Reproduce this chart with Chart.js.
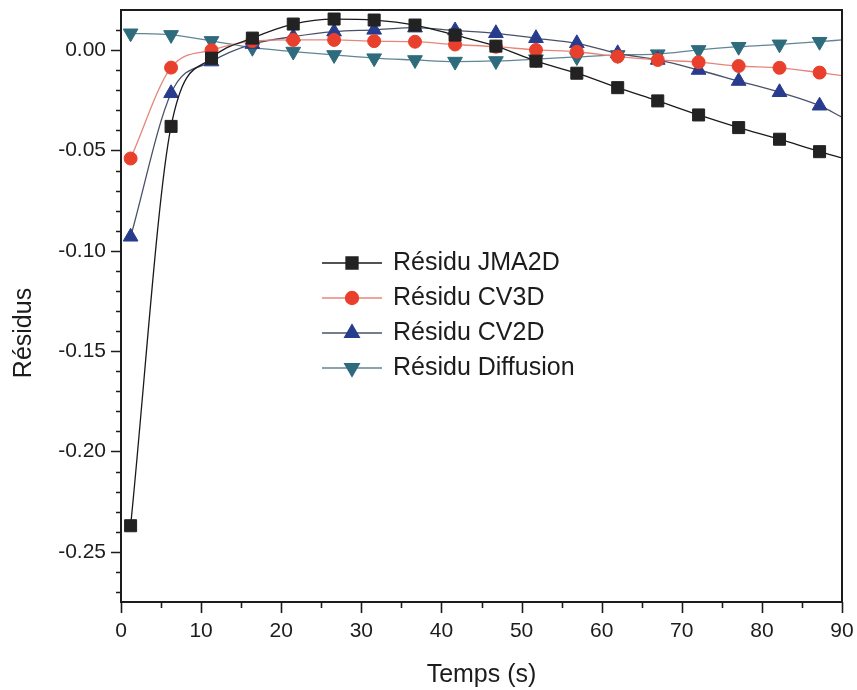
<!DOCTYPE html>
<html>
<head>
<meta charset="utf-8">
<script src="https://cdn.jsdelivr.net/npm/chart.js@4/dist/chart.umd.min.js"></script>
<style>
  html, body { margin: 0; padding: 0; background: #fff; }
  #residusChart { display: block; }
</style>
</head>
<body>
<canvas id="residusChart" width="857" height="690"></canvas>
<script>
/* DATA */
const temps = [1.2, 6.25, 11.3, 16.4, 21.5, 26.6, 31.6, 36.7, 41.7, 46.8, 51.8, 56.9, 62.0, 67.0, 72.1, 77.1, 82.2, 87.2, 90];
const residuJMA2D = [-0.237, -0.038, -0.004, 0.006, 0.013, 0.0155, 0.015, 0.0125, 0.0075, 0.002, -0.0055, -0.0115, -0.0187, -0.0253, -0.0323, -0.0386, -0.0444, -0.0506, -0.0537];
const residuCV3D = [-0.054, -0.0087, 0.0, 0.0045, 0.0051, 0.0051, 0.0045, 0.0042, 0.0028, 0.0017, 0.0001, -0.0008, -0.0032, -0.0049, -0.006, -0.0079, -0.0088, -0.0112, -0.0127];
const residuCV2D = [-0.093, -0.0215, -0.0057, 0.003, 0.0067, 0.0092, 0.0101, 0.0112, 0.0098, 0.0084, 0.0059, 0.0034, -0.0016, -0.0049, -0.0099, -0.0154, -0.021, -0.0277, -0.0334];
const residuDiffusion = [0.0084, 0.0076, 0.0046, 0.0012, -0.0007, -0.0024, -0.004, -0.0049, -0.0057, -0.0054, -0.0045, -0.0034, -0.0024, -0.002, 0.0001, 0.0017, 0.0029, 0.0042, 0.0051];

const seriesLabels = ['Résidu JMA2D', 'Résidu CV3D', 'Résidu CV2D', 'Résidu Diffusion'];
const xTickLabels = [0, 10, 20, 30, 40, 50, 60, 70, 80, 90];
const yTickLabels = [0.00, -0.05, -0.10, -0.15, -0.20, -0.25];

const FONT = "'Liberation Sans', Arial, Helvetica, sans-serif";
const INK = '#1c1c1c';

/* the last sample (t = 90) is only where the curve leaves the frame: no marker */
const lastIdx = temps.length - 1;
const markerRadius = r => ctx => (ctx.dataIndex === lastIdx ? 0 : r);

function makeSeries(label, values, lineColor, markColor, style, radius, rotation) {
    return {
        label: label,
        data: temps.map((t, i) => ({ x: t, y: values[i] })),
        borderColor: lineColor,
        borderWidth: 1.3,
        pointStyle: style,
        pointRotation: rotation,
        pointRadius: markerRadius(radius),
        pointBackgroundColor: markColor,
        pointBorderColor: markColor,
        pointBorderWidth: 1,
        cubicInterpolationMode: 'monotone',
        fill: false,
        _mark: markColor,
        _radius: radius
    };
}

const datasets = [
    makeSeries(seriesLabels[0], residuJMA2D, '#1a1a1a', '#222222', 'rect', 8.5, 0),
    makeSeries(seriesLabels[1], residuCV3D, '#e8857a', '#e8402c', 'circle', 6.5, 0),
    makeSeries(seriesLabels[2], residuCV2D, '#4a5068', '#283c8e', 'triangle', 8.5, 0),
    makeSeries(seriesLabels[3], residuDiffusion, '#5f8694', '#2e6b7c', 'triangle', 8.5, 180)
];

/* keep the plot box where the figure has it: no extra label padding */
function noPad(axis) {
    axis.paddingLeft = 0;
    axis.paddingRight = 0;
    axis.paddingTop = 0;
    axis.paddingBottom = 0;
}

/* Frame, outward ticks (major + minor), y title and inset legend */
const framePlugin = {
    id: 'framePlugin',
    afterDraw(chart) {
        const { ctx, chartArea: a, scales: { x, y } } = chart;
        ctx.save();
        ctx.strokeStyle = INK;
        ctx.lineWidth = 2;
        ctx.strokeRect(a.left, a.top, a.right - a.left, a.bottom - a.top);

        ctx.lineWidth = 1.6;
        ctx.beginPath();
        for (let k = 0; k <= 90; k += 5) {
            const px = Math.round(x.getPixelForValue(k)) + 0.5;
            ctx.moveTo(px, a.bottom);
            ctx.lineTo(px, a.bottom + (k % 10 === 0 ? 11 : 6));
        }
        for (let k = -27; k <= 1; k++) {
            const py = Math.round(y.getPixelForValue(k / 100)) + 0.5;
            ctx.moveTo(a.left, py);
            ctx.lineTo(a.left - (k % 5 === 0 ? 10 : 5), py);
        }
        ctx.stroke();

        // y axis title
        ctx.fillStyle = INK;
        ctx.font = '25px ' + FONT;
        ctx.textAlign = 'center';
        ctx.textBaseline = 'middle';
        ctx.translate(24, 333);
        ctx.rotate(-Math.PI / 2);
        ctx.fillText('Résidus', 0, 0);
        ctx.restore();

        // legend
        ctx.save();
        chart.data.datasets.forEach((ds, i) => {
            const rowY = 263 + i * 35;
            ctx.strokeStyle = ds.borderColor;
            ctx.lineWidth = 1.3;
            ctx.beginPath();
            ctx.moveTo(322, rowY);
            ctx.lineTo(382, rowY);
            ctx.stroke();
            ctx.fillStyle = ds._mark;
            ctx.strokeStyle = ds._mark;
            Chart.helpers.drawPoint(ctx, {
                pointStyle: ds.pointStyle,
                rotation: ds.pointRotation,
                radius: ds._radius,
                borderWidth: 1
            }, 352, rowY);
            ctx.fillStyle = INK;
            ctx.font = '25px ' + FONT;
            ctx.textAlign = 'left';
            ctx.textBaseline = 'middle';
            ctx.fillText(ds.label, 393, rowY);
        });
        ctx.restore();
    }
};

new Chart(document.getElementById('residusChart'), {
    type: 'line',
    data: { datasets: datasets },
    options: {
        responsive: false,
        animation: false,
        devicePixelRatio: 1,
        layout: { padding: { left: 0, top: 10, right: 15, bottom: 0 } },
        plugins: {
            legend: { display: false },
            tooltip: { enabled: false }
        },
        scales: {
            x: {
                type: 'linear',
                min: 0,
                max: 90,
                afterBuildTicks: axis => { axis.ticks = xTickLabels.map(v => ({ value: v })); },
                afterFit: axis => { axis.height = 88; noPad(axis); },
                grid: { display: false, drawTicks: false },
                border: { display: false },
                ticks: {
                    padding: 17,
                    maxRotation: 0,
                    color: INK,
                    font: { family: FONT, size: 21 },
                    callback: v => String(v)
                },
                title: {
                    display: true,
                    text: 'Temps (s)',
                    color: INK,
                    font: { family: FONT, size: 25 },
                    padding: { top: 0, bottom: 0 }
                }
            },
            y: {
                type: 'linear',
                min: -0.275,
                max: 0.02,
                afterBuildTicks: axis => { axis.ticks = yTickLabels.map(v => ({ value: v })); },
                afterFit: axis => { axis.width = 121; noPad(axis); },
                grid: { display: false, drawTicks: false },
                border: { display: false },
                ticks: {
                    padding: 15,
                    color: INK,
                    font: { family: FONT, size: 21 },
                    callback: v => (Math.abs(v) < 1e-9 ? '0.00' : v.toFixed(2))
                }
            }
        }
    },
    plugins: [framePlugin]
});
</script>
</body>
</html>
